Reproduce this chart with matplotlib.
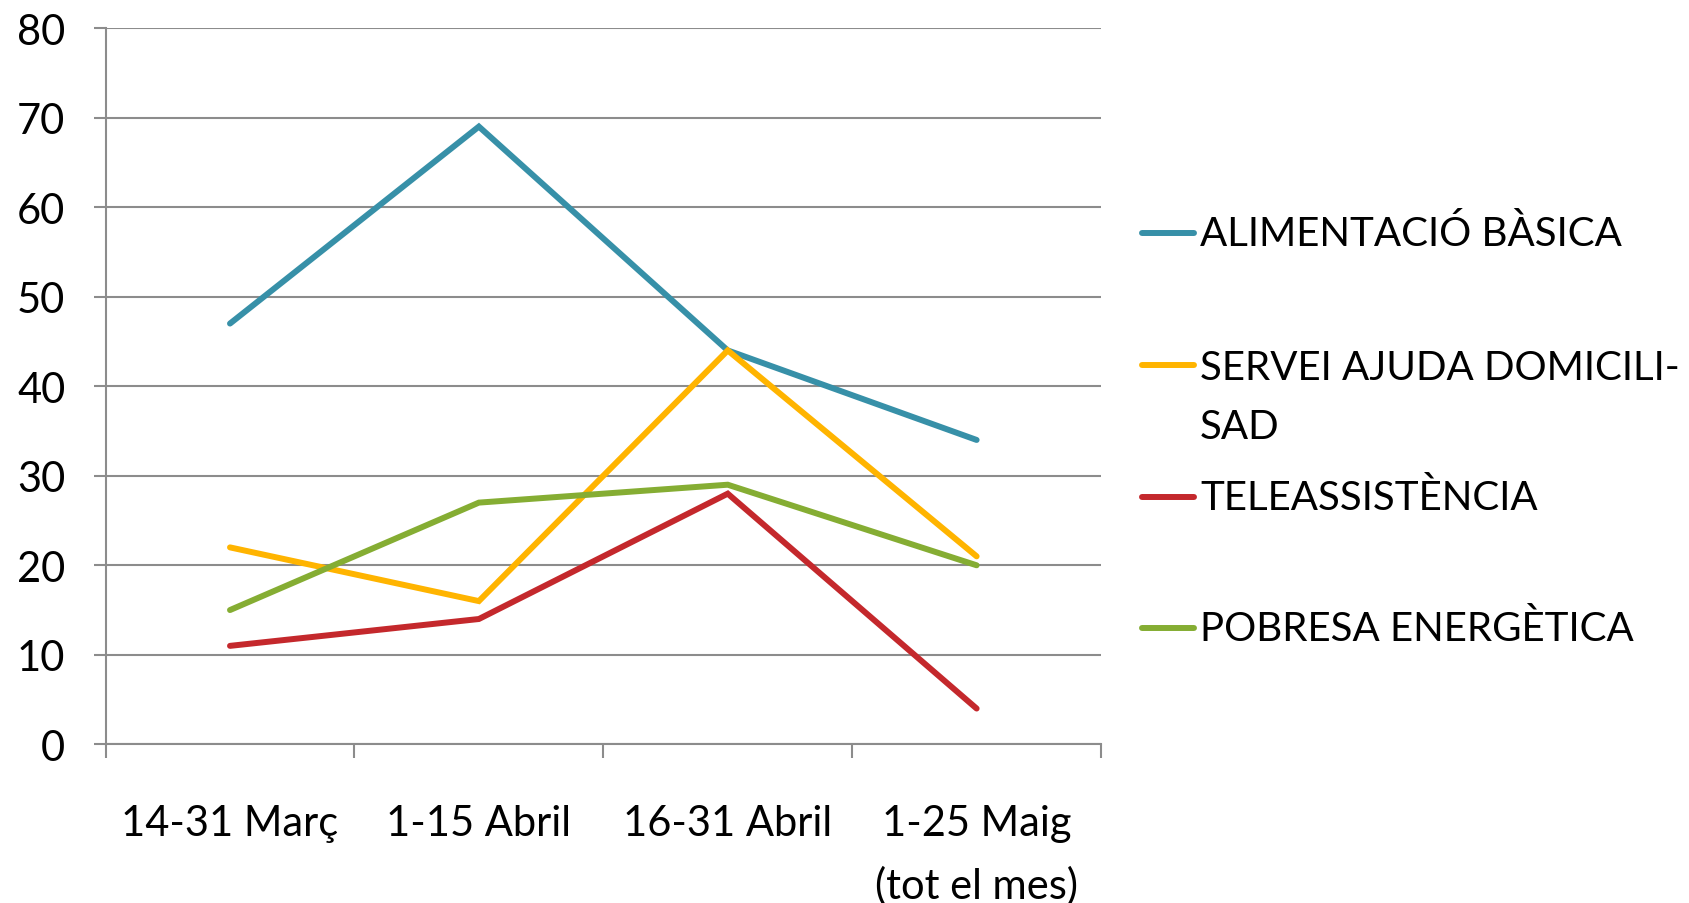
import numpy as np
import matplotlib
matplotlib.use("Agg")
import matplotlib.pyplot as plt
from matplotlib.lines import Line2D

# Chart data
categories = ["14-31 Març", "1-15 Abril", "16-31 Abril", "1-25 Maig\n(tot el mes)"]
series_names = ["ALIMENTACIÓ BÀSICA", "SERVEI AJUDA DOMICILI-\nSAD",
                "TELEASSISTÈNCIA", "POBRESA ENERGÈTICA"]
alimentacio = [47, 69, 44, 34]
servei_sad = [22, 16, 44, 21]
teleassistencia = [11, 14, 28, 4]
pobresa = [15, 27, 29, 20]
y_ticks = [0, 10, 20, 30, 40, 50, 60, 70, 80]

colors = ["#3790A8", "#FFB400", "#C4282C", "#85AD33"]
grid_color = "#8C8C8C"

plt.rcParams['font.family'] = ['Lato', 'DejaVu Sans']

def main():
    fig = plt.figure(figsize=(16.89, 9.04), dpi=100)
    ax = fig.add_axes([0.0625, 0.1755, 0.5894, 0.7923])

    x = np.arange(len(categories))
    all_series = [alimentacio, servei_sad, teleassistencia, pobresa]
    for vals, col in zip(all_series, colors):
        ax.plot(x, vals, color=col, linewidth=4.3, solid_capstyle='round',
                solid_joinstyle='miter', zorder=3)

    ax.set_xlim(-0.5, len(categories) - 0.5)
    ax.set_ylim(0, 80)
    ax.set_yticks(y_ticks)
    ax.yaxis.grid(True, color=grid_color, linewidth=1.5)
    ax.set_axisbelow(True)

    # category labels at centres, tick marks on boundaries
    ax.set_xticks(x)
    ax.set_xticklabels(categories, fontsize=30, linespacing=1.72, va='top')
    ax.set_xticks(np.arange(-0.5, len(categories)), minor=True)
    ax.tick_params(axis='x', which='major', length=0, pad=43)
    ax.tick_params(axis='x', which='minor', length=10, width=1.5, color=grid_color)
    ax.tick_params(axis='y', length=9, width=1.5, color=grid_color, labelsize=30, pad=20)

    for side in ['top', 'right']:
        ax.spines[side].set_visible(False)
    for side in ['left', 'bottom']:
        ax.spines[side].set_color(grid_color)
        ax.spines[side].set_linewidth(1.5)

    # legend drawn by hand to keep Excel-like spacing
    legend_y = [0.7415, 0.560, 0.4495, 0.3044]
    line_y = [0.7415, 0.595, 0.4495, 0.3044]
    for name, col, ly, hy in zip(series_names, colors, legend_y, line_y):
        fig.add_artist(Line2D([0.676, 0.707], [hy, hy], color=col, linewidth=4.3,
                              solid_capstyle='round', transform=fig.transFigure))
        fig.text(0.7105, ly, name, fontsize=29, va='center', linespacing=1.72)

    fig.savefig("out.png", dpi=100)

if __name__ == "__main__":
    main()
